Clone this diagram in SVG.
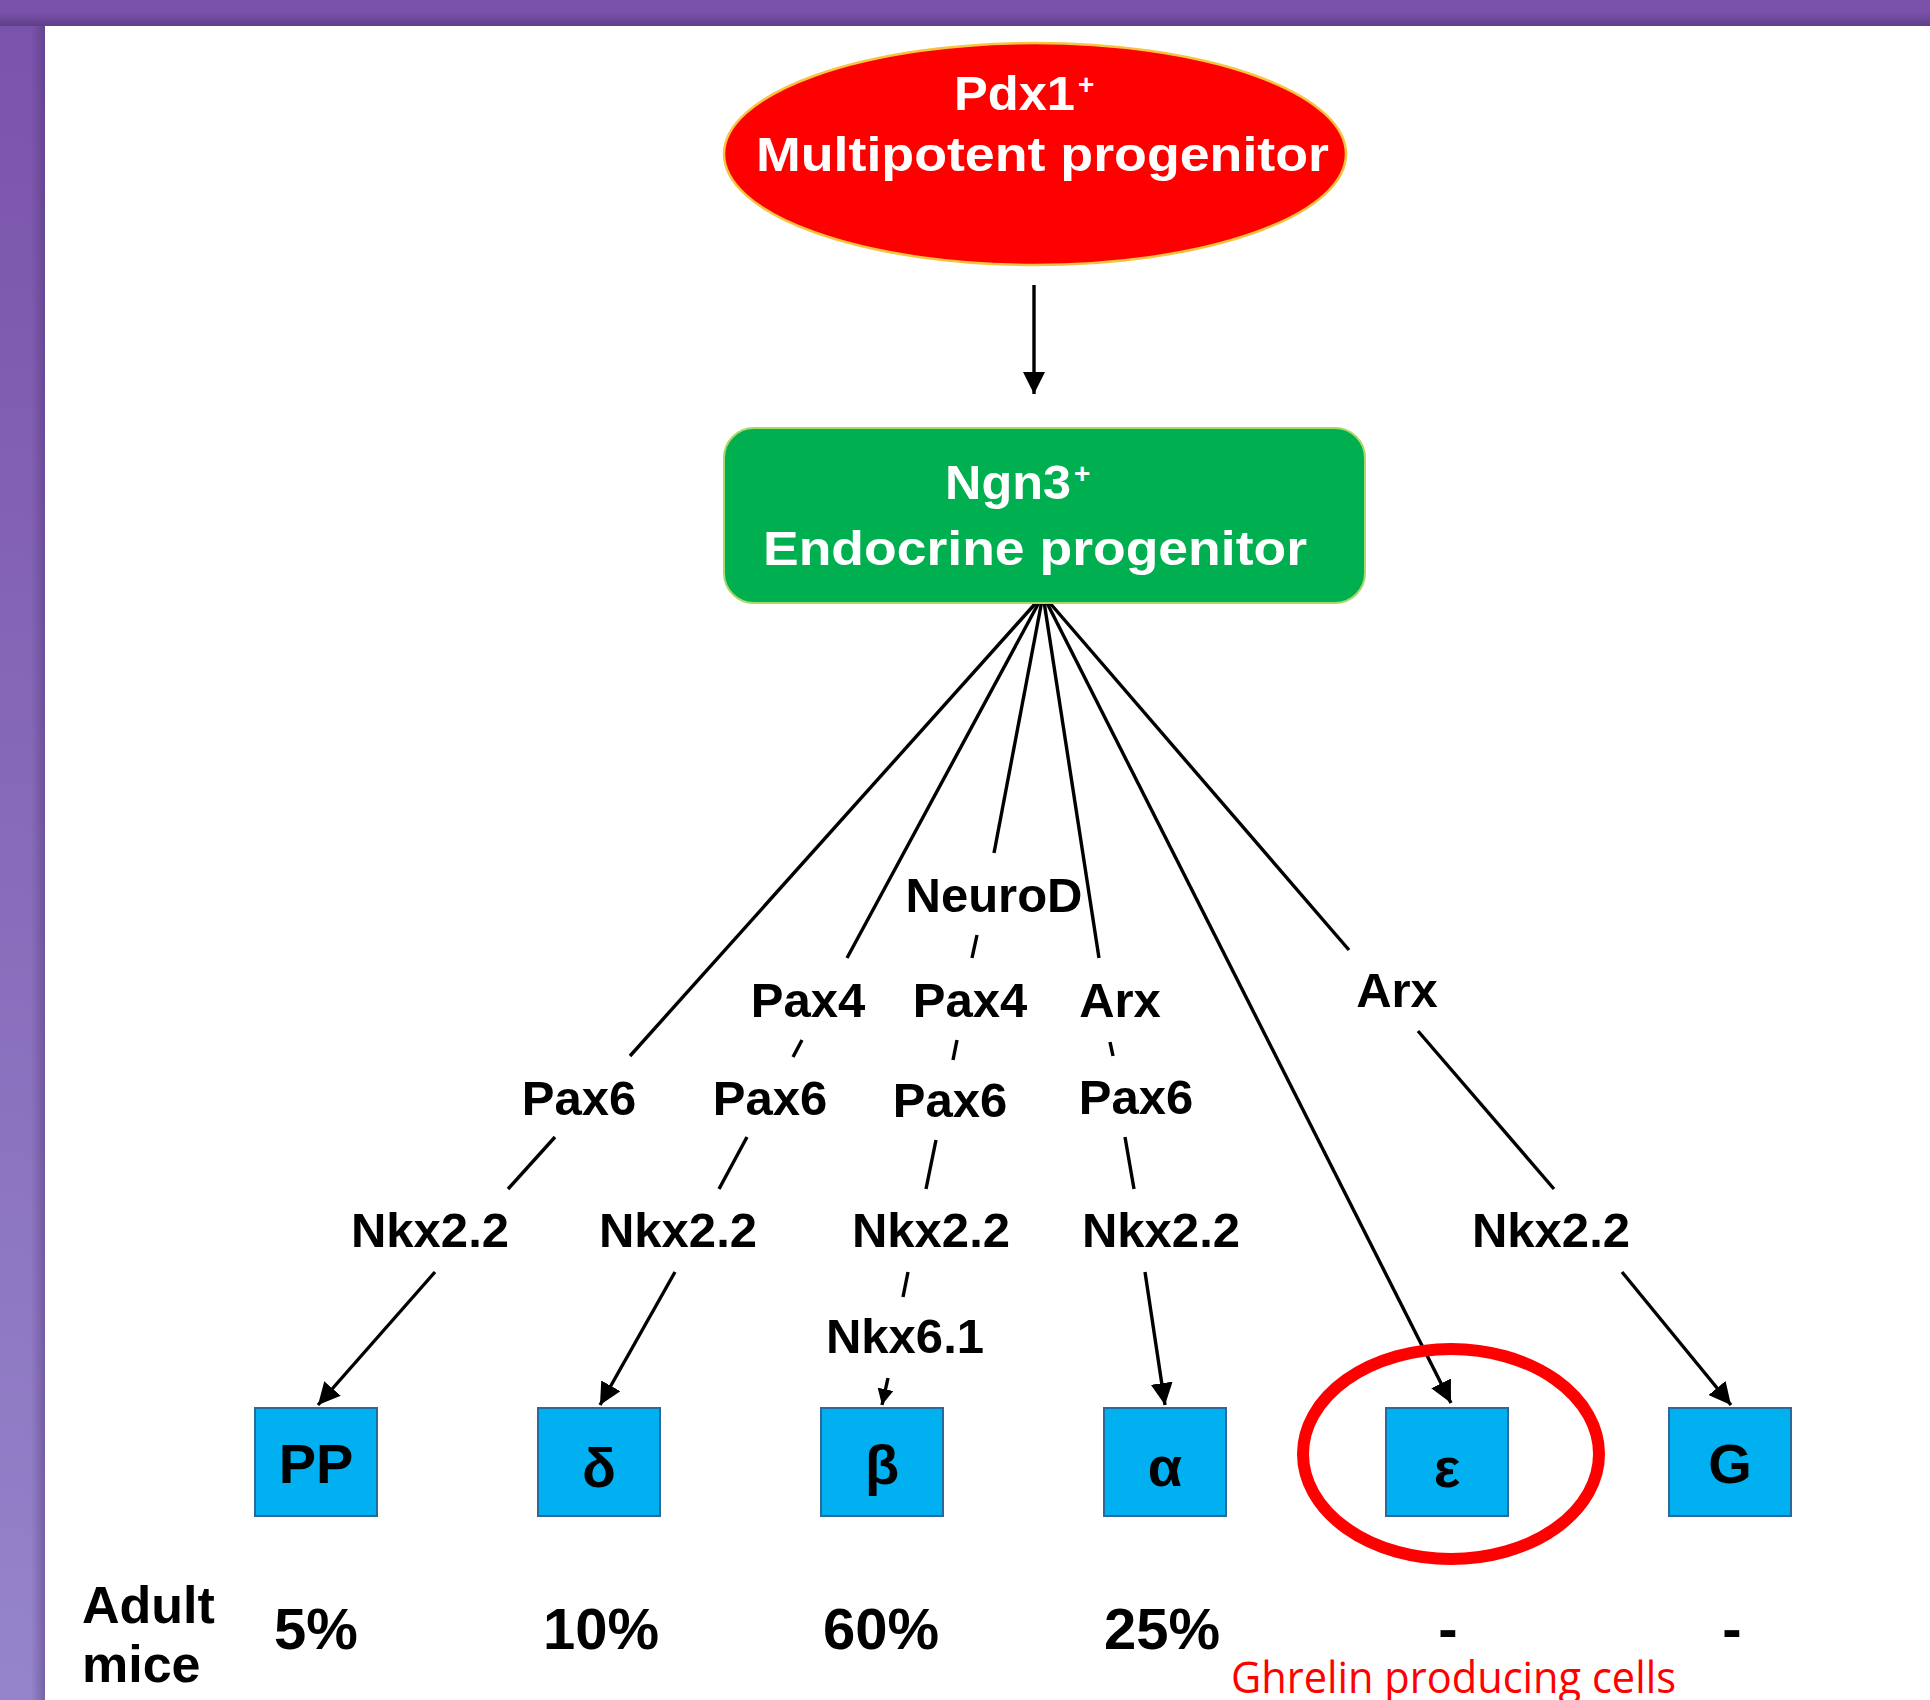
<svg xmlns="http://www.w3.org/2000/svg" width="1930" height="1700" viewBox="0 0 1930 1700">
  <defs>
    <linearGradient id="frameGrad" x1="0" y1="0" x2="0" y2="1">
      <stop offset="0" stop-color="#7a52aa"/>
      <stop offset="1" stop-color="#9584cb"/>
    </linearGradient>
    <linearGradient id="topShade" x1="0" y1="0" x2="0" y2="1">
      <stop offset="0" stop-color="#3d2560" stop-opacity="0"/>
      <stop offset="1" stop-color="#3d2560" stop-opacity="0.45"/>
    </linearGradient>
    <linearGradient id="leftShade" x1="0" y1="0" x2="1" y2="0">
      <stop offset="0" stop-color="#3d2560" stop-opacity="0"/>
      <stop offset="1" stop-color="#3d2560" stop-opacity="0.35"/>
    </linearGradient>
    <marker id="ah" markerUnits="userSpaceOnUse" markerWidth="22" markerHeight="22" viewBox="0 0 10 10" refX="10" refY="5" orient="auto">
      <path d="M0,0 L10,5 L0,10 z" fill="#000"/>
    </marker>
    <marker id="ahs" markerUnits="userSpaceOnUse" markerWidth="16" markerHeight="17" viewBox="0 0 10 10" refX="10" refY="5" orient="auto">
      <path d="M0,0 L10,5 L0,10 z" fill="#000"/>
    </marker>
  </defs>
  <style>
    .lbl { font-family: "Liberation Sans", Arial, sans-serif; font-weight: bold; font-size: 49px; text-anchor: middle; fill: #000; }
    .head { font-family: "Liberation Sans", Arial, sans-serif; font-weight: bold; font-size: 49px; fill: #fff; }
    .sup { font-family: "Liberation Sans", Arial, sans-serif; font-weight: bold; font-size: 28px; fill: #fff; }
    .cell { fill: #00b0f0; stroke: #2b6a98; stroke-width: 2; }
    .cellTxt { font-family: "Liberation Sans", Arial, sans-serif; font-weight: bold; font-size: 56px; text-anchor: middle; fill: #000; }
    .pct { font-family: "Liberation Sans", Arial, sans-serif; font-weight: bold; font-size: 58px; text-anchor: middle; fill: #000; }
    .row { font-family: "Liberation Sans", Arial, sans-serif; font-weight: bold; font-size: 52px; fill: #000; }
    .ln { stroke: #000; stroke-width: 3.4; fill: none; }
    .arr { marker-end: url(#ah); }
    .arrs { marker-end: url(#ahs); }
  </style>

  <!-- slide frame -->
  <rect x="0" y="0" width="1930" height="1700" fill="url(#frameGrad)"/>
  <rect x="0" y="12" width="1930" height="14" fill="url(#topShade)"/>
  <rect x="31" y="26" width="14" height="1674" fill="url(#leftShade)"/>
  <rect x="45" y="26" width="1885" height="1674" fill="#ffffff"/>

  <!-- connectors -->
  <g id="connectors">
    <line class="ln arr" x1="1034" y1="285" x2="1034" y2="394"/>

    <!-- fan out of the endocrine progenitor -->
    <line class="ln" x1="1043" y1="595" x2="630" y2="1056"/>
    <line class="ln" x1="1043" y1="595" x2="847" y2="958"/>
    <line class="ln" x1="1043" y1="595" x2="994" y2="853"/>
    <line class="ln" x1="1043" y1="595" x2="1099" y2="958"/>
    <line class="ln arr" x1="1043" y1="595" x2="1451" y2="1403"/>
    <line class="ln" x1="1043" y1="595" x2="1349" y2="950"/>

    <!-- factor to factor links -->
    <line class="ln" x1="977" y1="935" x2="972" y2="958"/>
    <line class="ln" x1="802" y1="1040" x2="793" y2="1057"/>
    <line class="ln" x1="957" y1="1040" x2="953" y2="1060"/>
    <line class="ln" x1="1110" y1="1042" x2="1113" y2="1056"/>
    <line class="ln" x1="555" y1="1137" x2="508" y2="1189"/>
    <line class="ln" x1="747" y1="1137" x2="719" y2="1189"/>
    <line class="ln" x1="936" y1="1140" x2="926" y2="1189"/>
    <line class="ln" x1="1125" y1="1137" x2="1134" y2="1189"/>
    <line class="ln" x1="1418" y1="1031" x2="1554" y2="1189"/>
    <line class="ln" x1="908" y1="1272" x2="903" y2="1297"/>

    <!-- into the hormone cells -->
    <line class="ln arr" x1="435" y1="1272" x2="318" y2="1405"/>
    <line class="ln arr" x1="675" y1="1272" x2="600" y2="1405"/>
    <line class="ln arrs" x1="888" y1="1378" x2="882" y2="1405"/>
    <line class="ln arr" x1="1145" y1="1272" x2="1165" y2="1405"/>
    <line class="ln arr" x1="1622" y1="1272" x2="1731" y2="1405"/>
  </g>

  <!-- progenitors -->
  <g id="pdx1">
    <ellipse cx="1035" cy="154" rx="311" ry="111" fill="#ff0000" stroke="#f7c340" stroke-width="2.5"/>
    <text class="head" x="954" y="110" textLength="121" lengthAdjust="spacingAndGlyphs">Pdx1</text>
    <text class="sup" x="1078" y="94">+</text>
    <text class="head" x="756" y="171" textLength="573" lengthAdjust="spacingAndGlyphs">Multipotent progenitor</text>
  </g>

  <g id="ngn3">
    <rect x="724" y="428" width="641" height="175" rx="30" ry="30" fill="#00b050" stroke="#a9d96b" stroke-width="2"/>
    <text class="head" x="945" y="499" textLength="126" lengthAdjust="spacingAndGlyphs">Ngn3</text>
    <text class="sup" x="1074" y="483">+</text>
    <text class="head" x="763" y="565" textLength="544" lengthAdjust="spacingAndGlyphs">Endocrine progenitor</text>
  </g>

  <!-- transcription factors -->
  <g id="factors">
    <text class="lbl" x="994" y="912">NeuroD</text>
    <text class="lbl" x="808" y="1017">Pax4</text>
    <text class="lbl" x="970" y="1017">Pax4</text>
    <text class="lbl" x="1120" y="1017">Arx</text>
    <text class="lbl" x="1397" y="1007">Arx</text>
    <text class="lbl" x="579" y="1115">Pax6</text>
    <text class="lbl" x="770" y="1115">Pax6</text>
    <text class="lbl" x="950" y="1117">Pax6</text>
    <text class="lbl" x="1136" y="1114">Pax6</text>
    <text class="lbl" x="430" y="1247">Nkx2.2</text>
    <text class="lbl" x="678" y="1247">Nkx2.2</text>
    <text class="lbl" x="931" y="1247">Nkx2.2</text>
    <text class="lbl" x="1161" y="1247">Nkx2.2</text>
    <text class="lbl" x="1551" y="1247">Nkx2.2</text>
    <text class="lbl" x="905" y="1353">Nkx6.1</text>
  </g>

  <!-- hormone cell types -->
  <g id="cell-pp">
    <rect class="cell" x="255" y="1408" width="122" height="108"/>
    <text class="cellTxt" x="316" y="1483">PP</text>
  </g>
  <g id="cell-delta">
    <rect class="cell" x="538" y="1408" width="122" height="108"/>
    <text class="cellTxt" x="599" y="1487">δ</text>
  </g>
  <g id="cell-beta">
    <rect class="cell" x="821" y="1408" width="122" height="108"/>
    <text class="cellTxt" x="882" y="1484">β</text>
  </g>
  <g id="cell-alpha">
    <rect class="cell" x="1104" y="1408" width="122" height="108"/>
    <text class="cellTxt" x="1165" y="1486">α</text>
  </g>
  <g id="cell-epsilon">
    <rect class="cell" x="1386" y="1408" width="122" height="108"/>
    <text class="cellTxt" x="1447" y="1487">ε</text>
  </g>
  <g id="cell-g">
    <rect class="cell" x="1669" y="1408" width="122" height="108"/>
    <text class="cellTxt" x="1730" y="1483">G</text>
  </g>

  <!-- adult proportions -->
  <g id="proportions">
    <text class="row" x="82" y="1623">Adult</text>
    <text class="row" x="82" y="1682">mice</text>
    <text class="pct" x="316" y="1649">5%</text>
    <text class="pct" x="601" y="1649">10%</text>
    <text class="pct" x="881" y="1649">60%</text>
    <text class="pct" x="1162" y="1649">25%</text>
    <text class="pct" x="1448" y="1649">-</text>
    <text class="pct" x="1732" y="1649">-</text>
  </g>

  <!-- ghrelin highlight -->
  <g id="ghrelin">
    <ellipse cx="1451" cy="1454" rx="148" ry="105" fill="none" stroke="#ff0000" stroke-width="12"/>
    <text x="1231" y="1693" font-family="'Open Sans', 'Liberation Sans', sans-serif" font-size="44" fill="#ff0000" textLength="445" lengthAdjust="spacingAndGlyphs">Ghrelin producing cells</text>
  </g>
</svg>
